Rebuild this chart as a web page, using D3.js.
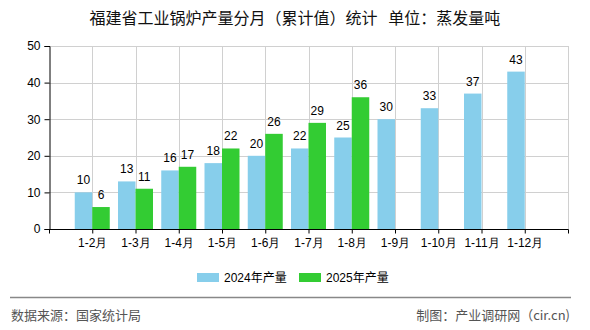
<!DOCTYPE html>
<html>
<head>
<meta charset="utf-8">
<script src="https://cdn.jsdelivr.net/npm/d3@7"></script>
<style>
  html, body { margin: 0; padding: 0; background: #fff; }
  svg { display: block; font-family: "Liberation Sans", "Noto Sans CJK SC", sans-serif; }
</style>
</head>
<body>
<svg id="chart" width="590" height="330"></svg>
<script>
// Monthly cumulative output, Fujian industrial boilers (evaporation tonnes)
const categories = ["1-2月", "1-3月", "1-4月", "1-5月", "1-6月", "1-7月", "1-8月", "1-9月", "1-10月", "1-11月", "1-12月"];
const values2024 = [10, 13, 16, 18, 20, 22, 25, 30, 33, 37, 43];
const values2025 = [6, 11, 17, 22, 26, 29, 36];
const seriesNames = ["2024年产量", "2025年产量"];
const seriesColors = ["#87ceeb", "#33cc33"];
const yTicks = [0, 10, 20, 30, 40, 50];

(function draw() {
  const svg = d3.select("#chart");
  const plotLeft = 49, plotRight = 568, plotTop = 46, plotBottom = 229;
  const barW = 17.5;

  // Positions 0..12: category i sits at slot i+1, the end slots are padding
  const slots = d3.range(categories.length + 2);
  const x = d3.scaleLinear().domain([0, categories.length + 1]).range([plotLeft, plotRight]);
  const y = d3.scaleLinear().domain([0, 50]).range([plotBottom, plotTop]);

  // Title
  svg.append("text")
    .attr("x", 295).attr("y", 24)
    .attr("text-anchor", "middle")
    .attr("font-size", 16)
    .attr("font-family", "Noto Sans CJK SC, sans-serif")
    .attr("fill", "#111")
    .text("福建省工业锅炉产量分月（累计值）统计\u00a0\u00a0\u00a0单位：蒸发量吨");

  // Grid
  const grid = svg.append("g").attr("stroke", "#d0d0d0").attr("stroke-width", 1);
  grid.selectAll("line.h").data(yTicks.filter(d => d > 0)).join("line")
    .attr("x1", plotLeft).attr("x2", plotRight)
    .attr("y1", d => Math.round(y(d)) + 0.5).attr("y2", d => Math.round(y(d)) + 0.5);
  grid.selectAll("line.v").data(slots.slice(1)).join("line")
    .attr("x1", d => Math.round(x(d)) + 0.5).attr("x2", d => Math.round(x(d)) + 0.5)
    .attr("y1", plotTop).attr("y2", plotBottom);

  // Bars
  const bars = svg.append("g");
  bars.selectAll("rect.s24").data(values2024).join("rect")
    .attr("x", (d, i) => x(i + 1) - barW)
    .attr("y", d => y(d))
    .attr("width", barW)
    .attr("height", d => y(0) - y(d))
    .attr("fill", seriesColors[0]);
  bars.selectAll("rect.s25").data(values2025).join("rect")
    .attr("x", (d, i) => x(i + 1))
    .attr("y", d => y(d))
    .attr("width", barW)
    .attr("height", d => y(0) - y(d))
    .attr("fill", seriesColors[1]);

  // Value labels
  const labels = svg.append("g").attr("font-size", 12).attr("fill", "#000").attr("text-anchor", "middle");
  labels.selectAll("text.l24").data(values2024).join("text")
    .attr("x", (d, i) => x(i + 1) - barW / 2)
    .attr("y", d => y(d) - 8)
    .text(d => d);
  labels.selectAll("text.l25").data(values2025).join("text")
    .attr("x", (d, i) => x(i + 1) + barW / 2)
    .attr("y", d => y(d) - 8)
    .text(d => d);

  // Y axis
  const yAxis = d3.axisLeft(y).tickValues(yTicks).tickSize(5).tickPadding(4);
  const yg = svg.append("g").attr("transform", `translate(${plotLeft + 0.5},0)`).call(yAxis);
  yg.select(".domain").attr("stroke", "#000");
  yg.selectAll(".tick line").attr("stroke", "#000");
  yg.selectAll("text").attr("font-size", 12).attr("fill", "#000")
    .attr("font-family", "Liberation Sans, sans-serif");

  // X axis
  const xAxis = d3.axisBottom(x).tickValues(slots).tickSize(4).tickPadding(5)
    .tickFormat(d => (d >= 1 && d <= categories.length) ? categories[d - 1] : "");
  const xg = svg.append("g").attr("transform", `translate(0,${plotBottom + 0.5})`).call(xAxis);
  xg.select(".domain").attr("stroke", "#000").attr("d", `M${plotLeft},0H${plotRight + 0.5}`);
  xg.selectAll(".tick line").attr("stroke", "#000");
  xg.selectAll("text").attr("font-size", 12).attr("fill", "#000");

  // Legend
  const legend = svg.append("g").attr("font-size", 12);
  const legendX = [197, 299];
  seriesNames.forEach((name, i) => {
    legend.append("rect")
      .attr("x", legendX[i]).attr("y", 273)
      .attr("width", 22).attr("height", 9)
      .attr("fill", seriesColors[i]);
    legend.append("text")
      .attr("x", legendX[i] + 27).attr("y", 282)
      .attr("fill", "#000")
      .text(name);
  });

  // Footer
  svg.append("line")
    .attr("x1", 10).attr("x2", 571)
    .attr("y1", 297.5).attr("y2", 297.5)
    .attr("stroke", "#888").attr("stroke-width", 1.5);
  svg.append("text")
    .attr("x", 11).attr("y", 320)
    .attr("font-size", 13).attr("fill", "#555")
    .attr("font-family", "Noto Sans CJK SC, sans-serif")
    .text("数据来源：国家统计局");
  svg.append("text")
    .attr("x", 570).attr("y", 320)
    .attr("text-anchor", "end")
    .attr("font-size", 13).attr("fill", "#555")
    .attr("font-family", "Noto Sans CJK SC, sans-serif")
    .text("制图：产业调研网（cir.cn)");
})();
</script>
</body>
</html>
